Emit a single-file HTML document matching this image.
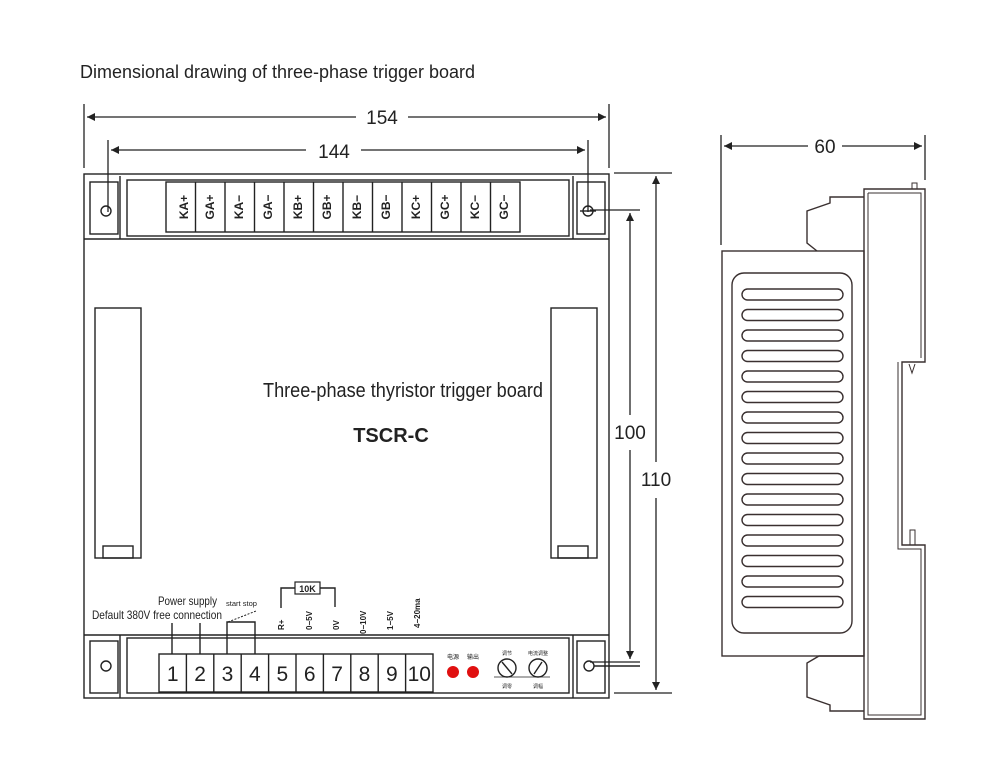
<!DOCTYPE html>
<html><head><meta charset="utf-8"><style>
html,body{margin:0;padding:0;background:#fff;width:1000px;height:768px;overflow:hidden}
svg{display:block}
text{font-family:"Liberation Sans","Noto Sans CJK SC",sans-serif;fill:#222}
</style></head><body>
<svg width="1000" height="768" viewBox="0 0 1000 768" xmlns="http://www.w3.org/2000/svg">
<defs>
<marker id="a" viewBox="0 0 10 10" refX="10" refY="5" markerWidth="10" markerHeight="8" orient="auto-start-reverse" markerUnits="userSpaceOnUse"><path d="M0,0 L10,5 L0,10 z" fill="#222"/></marker>
</defs>
<g stroke="#333" fill="none" stroke-width="1.3">
<!-- title -->
</g>
<text x="80" y="78" font-size="18" textLength="395" lengthAdjust="spacingAndGlyphs">Dimensional drawing of three-phase trigger board</text>

<!-- dimension lines -->
<g stroke="#222" stroke-width="1.3" fill="none">
<line x1="84" y1="104" x2="84" y2="168"/>
<line x1="609" y1="104" x2="609" y2="168"/>
<line x1="87" y1="117" x2="356" y2="117" marker-start="url(#a)"/>
<line x1="408" y1="117" x2="606" y2="117" marker-end="url(#a)"/>
<line x1="108" y1="140" x2="108" y2="212"/>
<line x1="588" y1="140" x2="588" y2="212"/>
<line x1="111" y1="150" x2="306" y2="150" marker-start="url(#a)"/>
<line x1="361" y1="150" x2="585" y2="150" marker-end="url(#a)"/>
<!-- 100 -->
<line x1="590" y1="210" x2="640" y2="210"/>
<line x1="590" y1="662" x2="640" y2="662"/>
<line x1="630" y1="213" x2="630" y2="415" marker-start="url(#a)"/>
<line x1="630" y1="450" x2="630" y2="659" marker-end="url(#a)"/>
<!-- 110 -->
<line x1="614" y1="173" x2="672" y2="173"/>
<line x1="614" y1="693" x2="672" y2="693"/>
<line x1="656" y1="176" x2="656" y2="462" marker-start="url(#a)"/>
<line x1="656" y1="498" x2="656" y2="690" marker-end="url(#a)"/>
<!-- 60 -->
<line x1="721" y1="135" x2="721" y2="245"/>
<line x1="925" y1="135" x2="925" y2="180"/>
<line x1="724" y1="146" x2="808" y2="146" marker-start="url(#a)"/>
<line x1="842" y1="146" x2="922" y2="146" marker-end="url(#a)"/>
</g>
<text x="382" y="124" font-size="19" text-anchor="middle">154</text>
<text x="334" y="158" font-size="19" text-anchor="middle">144</text>
<text x="630" y="439" font-size="19" text-anchor="middle">100</text>
<text x="656" y="486" font-size="19" text-anchor="middle">110</text>
<text x="825" y="153" font-size="19" text-anchor="middle">60</text>

<!-- main board -->
<g stroke="#222" stroke-width="1.4" fill="none">
<rect x="84" y="174" width="525" height="524"/>
<line x1="84" y1="239" x2="609" y2="239"/>
<line x1="84" y1="635" x2="609" y2="635"/>
<!-- top strip -->
<rect x="90" y="182" width="28" height="52"/>
<line x1="120" y1="176" x2="120" y2="239"/>
<line x1="573" y1="176" x2="573" y2="239"/>
<rect x="577" y="182" width="28" height="52"/>
<rect x="127" y="180" width="442" height="56"/>
<circle cx="106" cy="211" r="5"/>
<circle cx="588" cy="211" r="5"/>
<line x1="580" y1="211" x2="596" y2="211"/>
<!-- top terminals -->
<rect x="166" y="182" width="354" height="50"/>
<line x1="195.5" y1="182" x2="195.5" y2="232"/><line x1="225" y1="182" x2="225" y2="232"/>
<line x1="254.5" y1="182" x2="254.5" y2="232"/><line x1="284" y1="182" x2="284" y2="232"/>
<line x1="313.5" y1="182" x2="313.5" y2="232"/><line x1="343" y1="182" x2="343" y2="232"/>
<line x1="372.5" y1="182" x2="372.5" y2="232"/><line x1="402" y1="182" x2="402" y2="232"/>
<line x1="431.5" y1="182" x2="431.5" y2="232"/><line x1="461" y1="182" x2="461" y2="232"/>
<line x1="490.5" y1="182" x2="490.5" y2="232"/>
<!-- slots -->
<rect x="95" y="308" width="46" height="250"/>
<rect x="103" y="546" width="30" height="12"/>
<rect x="551" y="308" width="46" height="250"/>
<rect x="558" y="546" width="30" height="12"/>
<!-- bottom strip -->
<rect x="90" y="641" width="28" height="52"/>
<line x1="120" y1="635" x2="120" y2="698"/>
<line x1="573" y1="635" x2="573" y2="698"/>
<rect x="577" y="641" width="28" height="52"/>
<rect x="127" y="638" width="442" height="55"/>
<circle cx="106" cy="666" r="5"/>
<circle cx="589" cy="666" r="5"/>
<line x1="594" y1="666" x2="640" y2="666"/>
<rect x="159" y="654" width="274" height="38"/>
<line x1="186.4" y1="654" x2="186.4" y2="692"/><line x1="213.8" y1="654" x2="213.8" y2="692"/>
<line x1="241.2" y1="654" x2="241.2" y2="692"/><line x1="268.6" y1="654" x2="268.6" y2="692"/>
<line x1="296" y1="654" x2="296" y2="692"/><line x1="323.4" y1="654" x2="323.4" y2="692"/>
<line x1="350.8" y1="654" x2="350.8" y2="692"/><line x1="378.2" y1="654" x2="378.2" y2="692"/>
<line x1="405.6" y1="654" x2="405.6" y2="692"/>
<!-- leaders -->
<line x1="172" y1="623" x2="172" y2="654"/>
<line x1="200" y1="623" x2="200" y2="654"/>
<polyline points="227,654 227,622 255,622 255,654"/>
<line x1="228" y1="622" x2="256" y2="611" stroke-dasharray="2,1.5" stroke-width="1"/>
<polyline points="281,608 281,588 295,588"/>
<polyline points="320,588 335,588 335,607"/>
<rect x="295" y="582" width="25" height="12" stroke-width="1.2"/>
<!-- pots -->
<circle cx="507" cy="668" r="9"/>
<line x1="502" y1="662" x2="512" y2="674"/>
<circle cx="538" cy="668" r="9"/>
<line x1="534" y1="674" x2="542" y2="662"/>
<line x1="494" y1="677" x2="550" y2="677" stroke-width="0.8"/>
</g>
<g font-size="12" font-weight="bold" text-anchor="middle">
<text transform="translate(185,207) rotate(-90)" dominant-baseline="middle">KA+</text>
<text transform="translate(211,207) rotate(-90)" dominant-baseline="middle">GA+</text>
<text transform="translate(240,207) rotate(-90)" dominant-baseline="middle">KA−</text>
<text transform="translate(269,207) rotate(-90)" dominant-baseline="middle">GA−</text>
<text transform="translate(299,207) rotate(-90)" dominant-baseline="middle">KB+</text>
<text transform="translate(328,207) rotate(-90)" dominant-baseline="middle">GB+</text>
<text transform="translate(358,207) rotate(-90)" dominant-baseline="middle">KB−</text>
<text transform="translate(387,207) rotate(-90)" dominant-baseline="middle">GB−</text>
<text transform="translate(417,207) rotate(-90)" dominant-baseline="middle">KC+</text>
<text transform="translate(446,207) rotate(-90)" dominant-baseline="middle">GC+</text>
<text transform="translate(476,207) rotate(-90)" dominant-baseline="middle">KC−</text>
<text transform="translate(505,207) rotate(-90)" dominant-baseline="middle">GC−</text>
</g>
<g font-size="21" text-anchor="middle">
<text x="172.7" y="681">1</text><text x="200.1" y="681">2</text><text x="227.5" y="681">3</text>
<text x="254.9" y="681">4</text><text x="282.3" y="681">5</text><text x="309.7" y="681">6</text>
<text x="337.1" y="681">7</text><text x="364.5" y="681">8</text><text x="391.9" y="681">9</text>
<text x="419.3" y="681">10</text>
</g>
<g font-size="8" font-weight="bold">
<text transform="translate(284,630) rotate(-90)">R+</text>
<text transform="translate(312,630) rotate(-90)">0−5V</text>
<text transform="translate(339,630) rotate(-90)">0V</text>
<text transform="translate(366,634) rotate(-90)">0−10V</text>
<text transform="translate(393,630) rotate(-90)">1−5V</text>
<text transform="translate(420,628) rotate(-90)">4−20ma</text>
</g>
<text x="307.5" y="592" font-size="9" font-weight="bold" text-anchor="middle">10K</text>
<text x="158" y="605" font-size="12" textLength="59" lengthAdjust="spacingAndGlyphs">Power supply</text>
<text x="92" y="619" font-size="12" textLength="130" lengthAdjust="spacingAndGlyphs">Default 380V free connection</text>
<text x="226" y="606" font-size="7" textLength="31" lengthAdjust="spacingAndGlyphs">start stop</text>
<text x="263" y="397" font-size="20" textLength="280" lengthAdjust="spacingAndGlyphs">Three-phase thyristor trigger board</text>
<text x="391" y="442" font-size="20" font-weight="bold" text-anchor="middle">TSCR-C</text>
<circle cx="453" cy="672" r="6" fill="#e01010"/>
<circle cx="473" cy="672" r="6" fill="#e01010"/>
<text x="453" y="659" font-size="6" text-anchor="middle">电源</text>
<text x="473" y="659" font-size="6" text-anchor="middle">输出</text>
<text x="507" y="655" font-size="5" text-anchor="middle">调节</text>
<text x="538" y="655" font-size="5" text-anchor="middle">电流调整</text>
<text x="507" y="688" font-size="5" text-anchor="middle">调零</text>
<text x="538" y="688" font-size="5" text-anchor="middle">调幅</text>

<!-- side view -->
<g stroke="#3a3030" stroke-width="1.4" fill="none">
<rect x="722" y="251" width="142" height="405"/>
<rect x="732" y="273" width="120" height="360" rx="12"/>
<g id="s">
<rect x="742" y="289" width="101" height="11" rx="5.5"/>
</g>
<use href="#s" y="20.5"/><use href="#s" y="41"/><use href="#s" y="61.5"/><use href="#s" y="82"/>
<use href="#s" y="102.5"/><use href="#s" y="123"/><use href="#s" y="143.5"/><use href="#s" y="164"/>
<use href="#s" y="184.5"/><use href="#s" y="205"/><use href="#s" y="225.5"/><use href="#s" y="246"/>
<use href="#s" y="266.5"/><use href="#s" y="287"/><use href="#s" y="307.5"/>
<!-- connectors -->
<polyline points="864,197 830,197 830,203 807,211 807,243 817,251"/>
<polyline points="864,656 819,656 807,663 807,697 830,705 830,711 864,711"/>
<!-- body -->
<polygon points="864,189 925,189 925,362 902,362 902,545 925,545 925,719 864,719"/>
<polyline points="868,193 921,193 921,358" stroke-width="1"/>
<polyline points="898,362 898,549 921,549 921,715 868,715 868,193" stroke-width="1"/>
<rect x="912" y="183" width="5" height="6" stroke-width="1"/>
<rect x="910" y="530" width="5" height="15" stroke-width="1"/>
<polyline points="909,364 912,373 915,364" stroke-width="1"/>
</g>
</svg>
</body></html>
